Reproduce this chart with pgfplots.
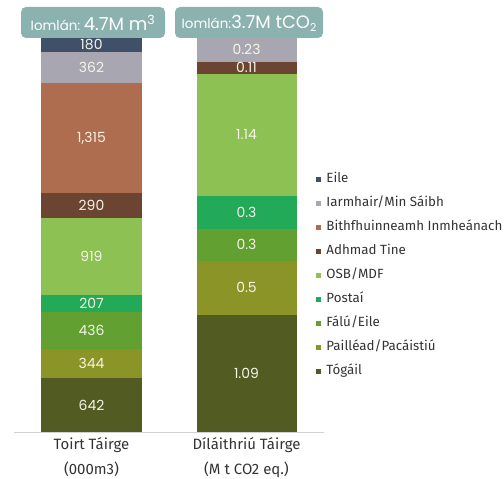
\documentclass[border=0pt]{standalone}
\usepackage{pgfplots}
\pgfplotsset{compat=1.18}
\usepackage{fontspec}
\setmainfont{Fira Sans}
\newfontfamily\geo{Poppins}

\definecolor{cEile}{HTML}{3F5068}
\definecolor{cIarm}{HTML}{A8A7B1}
\definecolor{cBith}{HTML}{AD6D4E}
\definecolor{cAdh}{HTML}{6B4532}
\definecolor{cOSB}{HTML}{8DC153}
\definecolor{cPost}{HTML}{22AA58}
\definecolor{cFalu}{HTML}{62A031}
\definecolor{cPail}{HTML}{8B9427}
\definecolor{cTog}{HTML}{515B22}
\definecolor{boxcol}{HTML}{8CB2B0}
\definecolor{labtxt}{HTML}{F6F4E6}
\definecolor{txt}{HTML}{333333}

\begin{document}
\begin{tikzpicture}
\pgfplotsset{
  barbase/.style={
    at={(14bp,47bp)}, anchor=south west,
    scale only axis, width=310bp, height=395bp,
    xmin=-0.5, xmax=1.5, ymin=0,
    enlargelimits=false,
    ybar stacked, bar width=100bp,
    /pgf/number format/assume math mode=true,
    nodes near coords,
    every node near coord/.append style={anchor=center,
      font=\geo\fontsize{14}{14}\selectfont, text=labtxt},
  }
}

% volume bar (000 m3)
\begin{axis}[barbase, ymax=4695,
  axis x line=bottom, axis y line=none,
  x axis line style={-, draw=black!18, line width=0.8bp},
  xtick={0,1}, major tick length=0pt,
  xticklabels={{Toirt Táirge\\(000m3)},{Díláithriú Táirge\\(M t CO2 eq.)}},
  xticklabel style={align=center, font=\fontsize{15}{25}\selectfont, text=txt, yshift=-2bp},
  reverse legend,
  legend cell align=left,
  legend image code/.code={\fill[#1,draw=none] (0bp,-2.5bp) rectangle (5bp,2.5bp);},
  legend style={at={(axis description cs:0.975,0.655)}, anchor=north west,
    draw=none, fill=none, inner sep=0pt, row sep=12bp, column sep=5bp,
    nodes={inner sep=0pt, text height=9bp, text depth=3bp},
    font=\fontsize{13.4}{13}\selectfont, text=txt},
]
\addplot[fill=cTog, draw=none] coordinates {(0,642)};
\addlegendentry{Tógáil}
\addplot[fill=cPail, draw=none] coordinates {(0,344)};
\addlegendentry{Pailléad/Pacáistiú}
\addplot[fill=cFalu, draw=none] coordinates {(0,436)};
\addlegendentry{Fálú/Eile}
\addplot[fill=cPost, draw=none] coordinates {(0,207)};
\addlegendentry{Postaí}
\addplot[fill=cOSB, draw=none] coordinates {(0,919)};
\addlegendentry{OSB/MDF}
\addplot[fill=cAdh, draw=none] coordinates {(0,290)};
\addlegendentry{Adhmad Tine}
\addplot[fill=cBith, draw=none] coordinates {(0,1315)};
\addlegendentry{Bithfhuinneamh Inmheánach}
\addplot[fill=cIarm, draw=none] coordinates {(0,362)};
\addlegendentry{Iarmhair/Min Sáibh}
\addplot[fill=cEile, draw=none] coordinates {(0,180)};
\addlegendentry{Eile}
\end{axis}

% displacement bar (M t CO2 eq.)
\begin{axis}[barbase, ymax=3.67, hide axis]
\addplot[fill=cTog, draw=none] coordinates {(1,1.09)};
\addplot[fill=cPail, draw=none] coordinates {(1,0.5)};
\addplot[fill=cFalu, draw=none] coordinates {(1,0.3)};
\addplot[fill=cPost, draw=none] coordinates {(1,0.3)};
\addplot[fill=cOSB, draw=none] coordinates {(1,1.14)};
\addplot[fill=cAdh, draw=none] coordinates {(1,0.11)};
\addplot[fill=cIarm, draw=none] coordinates {(1,0.23)};
\end{axis}

% total boxes
\fill[boxcol, rounded corners=5bp] (21bp,441bp) rectangle (165bp,472bp);
\fill[boxcol, rounded corners=5bp] (175bp,441bp) rectangle (323bp,472bp);
\node[text=white, font=\geo, inner sep=0pt] at (93bp,456bp)
  {{\fontsize{13.5}{12}\selectfont Iomlán:} {\fontsize{18}{18}\selectfont 4.7M m\textsuperscript{3}}};
\node[text=white, font=\geo, inner sep=0pt] at (249bp,456bp)
  {{\fontsize{13.5}{12}\selectfont Iomlán:}{\fontsize{18}{18}\selectfont 3.7M tCO\raisebox{-3bp}{\fontsize{11}{11}\selectfont 2}}};

\pgfresetboundingbox
\path[use as bounding box] (0,0) rectangle (504bp,479bp);
\end{tikzpicture}
\end{document}
